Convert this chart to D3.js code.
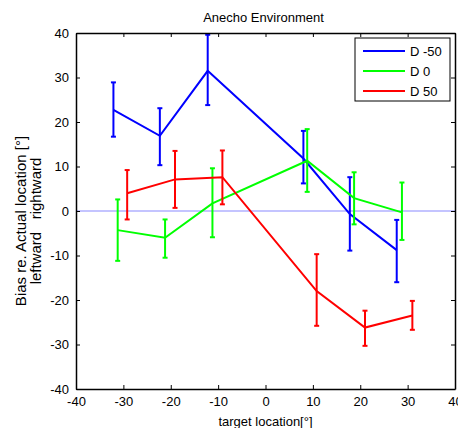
<!DOCTYPE html>
<html>
<head>
<meta charset="utf-8">
<script src="https://cdn.jsdelivr.net/npm/d3@7"></script>
<style>
  body { margin: 0; background: #fff; }
  text { font-family: "Liberation Sans", Arial, sans-serif; }
</style>
</head>
<body>
<div id="chart"></div>
<script>
// values
var seriesNames = ["D -50", "D 0", "D 50"];
var seriesColors = ["#0000ff", "#00ff00", "#ff0000"];

var blueX  = [-32.1, -22.3, -12.2, 8.0, 17.8, 27.7];
var blueY  = [22.7, 16.9, 31.5, 11.8, -0.7, -8.8];
var blueLo = [16.7, 10.3, 23.8, 6.2, -8.9, -16.0];
var blueHi = [28.9, 23.1, 39.6, 18.0, 7.6, -2.0];

var greenX  = [-31.2, -21.2, -11.2, 8.8, 18.7, 28.8];
var greenY  = [-4.3, -6.0, 1.7, 11.3, 2.9, -0.3];
var greenLo = [-11.2, -10.5, -5.9, 4.3, -3.0, -6.5];
var greenHi = [2.6, -1.9, 9.6, 18.4, 8.7, 6.4];

var redX  = [-29.2, -19.1, -9.1, 10.8, 21.0, 31.0];
var redY  = [4.0, 7.1, 7.6, -18.0, -26.2, -23.5];
var redLo = [-1.9, 0.7, 1.5, -25.8, -30.3, -26.7];
var redHi = [9.2, 13.5, 13.6, -9.7, -22.4, -20.2];

var xTicks = [-40, -30, -20, -10, 0, 10, 20, 30, 40];
var yTicks = [-40, -30, -20, -10, 0, 10, 20, 30, 40];

var width = 458, height = 428;
var margin = {top: 33, right: 3, bottom: 39, left: 76};
var w = width - margin.left - margin.right;
var h = height - margin.top - margin.bottom;

var x = d3.scaleLinear().domain([-40, 40]).range([0, w]);
var y = d3.scaleLinear().domain([-40, 40]).range([h, 0]);

var svg = d3.select("#chart").append("svg")
  .attr("width", width)
  .attr("height", height);

var g = svg.append("g")
  .attr("transform", `translate(${margin.left}, ${margin.top})`);

// zero line
g.append("line")
  .attr("x1", 0).attr("x2", w)
  .attr("y1", y(0)).attr("y2", y(0))
  .attr("stroke", "#b0b0ff")
  .attr("stroke-width", 1.5);

function zip(xs, ys, lo, hi) {
  return xs.map(function(d, i) { return {x: d, y: ys[i], lo: lo[i], hi: hi[i]}; });
}
var series = [
  zip(blueX, blueY, blueLo, blueHi),
  zip(greenX, greenY, greenLo, greenHi),
  zip(redX, redY, redLo, redHi)
];

var line = d3.line().x(d => x(d.x)).y(d => y(d.y));

series.forEach(function(s, k) {
  var col = seriesColors[k];
  var sg = g.append("g").attr("stroke", col).attr("stroke-width", 2).attr("fill", "none");
  sg.append("path").attr("d", line(s));
  // error bars
  var eb = sg.selectAll(".eb").data(s).enter().append("g");
  eb.append("line")
    .attr("x1", d => x(d.x)).attr("x2", d => x(d.x))
    .attr("y1", d => y(d.lo)).attr("y2", d => y(d.hi));
  eb.append("line")
    .attr("x1", d => x(d.x) - 2.5).attr("x2", d => x(d.x) + 2.5)
    .attr("y1", d => y(d.lo)).attr("y2", d => y(d.lo));
  eb.append("line")
    .attr("x1", d => x(d.x) - 2.5).attr("x2", d => x(d.x) + 2.5)
    .attr("y1", d => y(d.hi)).attr("y2", d => y(d.hi));
});

// axes (ticks inward, box)
var fmt = d => d;
g.append("g")
  .attr("transform", `translate(0, ${h})`)
  .call(d3.axisBottom(x).tickValues(xTicks).tickFormat(fmt).tickSizeInner(-4).tickSizeOuter(0).tickPadding(8))
  .call(a => a.selectAll("text").attr("font-size", "13px").attr("fill", "#000"));
g.append("g")
  .call(d3.axisLeft(y).tickValues(yTicks).tickFormat(fmt).tickSizeInner(-4).tickSizeOuter(0).tickPadding(7))
  .call(a => a.selectAll("text").attr("font-size", "13px").attr("fill", "#000"));
g.append("g")
  .call(d3.axisTop(x).tickValues(xTicks).tickFormat("").tickSizeInner(-4).tickSizeOuter(0));
g.append("g")
  .attr("transform", `translate(${w}, 0)`)
  .call(d3.axisRight(y).tickValues(yTicks).tickFormat("").tickSizeInner(-4).tickSizeOuter(0));
g.selectAll(".domain").attr("stroke", "#000").attr("stroke-width", 1.5);
g.selectAll(".tick line").attr("stroke", "#000");

// title and labels
svg.append("text")
  .attr("x", margin.left + w / 2 - 2).attr("y", 22)
  .attr("text-anchor", "middle").attr("font-size", "13px")
  .text("Anecho Environment");

svg.append("text")
  .attr("x", margin.left + w / 2).attr("y", 426)
  .attr("text-anchor", "middle").attr("font-size", "13px")
  .text("target location[°]");

var yl = svg.append("text")
  .attr("transform", "translate(26, 221) rotate(-90)")
  .attr("text-anchor", "middle").attr("font-size", "15px");
yl.append("tspan").attr("x", 0).attr("dy", 0).text("Bias re. Actual location [°]");
yl.append("tspan").attr("x", 0).attr("dy", 14.5).attr("xml:space", "preserve").text("leftward   rightward");

// legend
var lg = svg.append("g").attr("transform", "translate(355, 38)");
lg.append("rect")
  .attr("width", 95).attr("height", 63)
  .attr("fill", "#fff").attr("stroke", "#000").attr("stroke-width", 1);
seriesNames.forEach(function(n, i) {
  var yy = 13 + i * 20;
  lg.append("line")
    .attr("x1", 8).attr("x2", 50).attr("y1", yy).attr("y2", yy)
    .attr("stroke", seriesColors[i]).attr("stroke-width", 2);
  lg.append("text")
    .attr("x", 55).attr("y", yy + 5)
    .attr("font-size", "13px")
    .text(n);
});
</script>
</body>
</html>
